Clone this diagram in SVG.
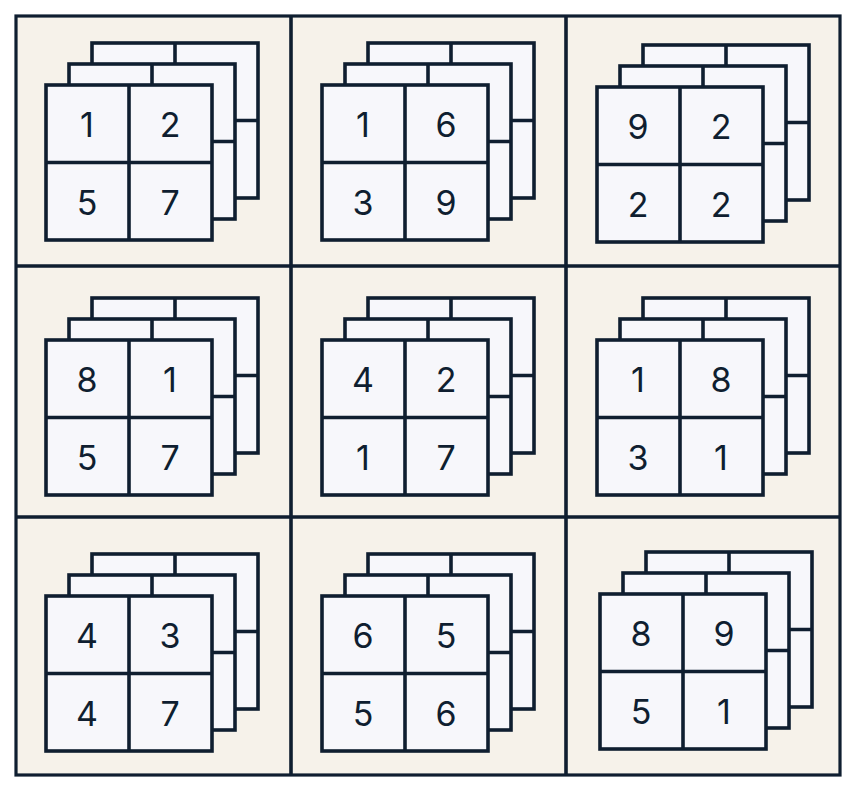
<svg xmlns="http://www.w3.org/2000/svg" xmlns:xlink="http://www.w3.org/1999/xlink" width="858" height="790" viewBox="0 0 858 790">
<style>
.f{fill:#f7f7fb;stroke:#0f1e30;stroke-width:3.6}
.l{stroke:#0f1e30;stroke-width:3.6;fill:none}
.t{font-family:Inter,"Noto Sans",sans-serif;font-size:34px;fill:#0f1e30;text-anchor:middle;dominant-baseline:central}
</style>
<defs>
<g id="stack">
<rect class="f" x="46" y="-42" width="166" height="155"/>
<path class="l" d="M129,-42V35M212,35.5H166"/>
<rect class="f" x="23" y="-21" width="166" height="155"/>
<path class="l" d="M106,-21V56M189,56.5H166"/>
<rect class="f" x="0" y="0" width="166" height="155"/>
<path class="l" d="M83,0V155M0,77.5H166"/>
</g>
</defs>
<rect x="16" y="16" width="824" height="759" fill="#f6f2ea" stroke="#0f1e30" stroke-width="3.2"/>
<g id="connectors">
<path class="l" d="M291,16V775M566,16V775M16,266H840M16,517H840" stroke-width="3.2"/>
</g>
<g id="c1" transform="translate(46,85)"><use xlink:href="#stack"/><text class="t" x="41" y="39">1</text><text class="t" x="124" y="39">2</text><text class="t" x="41" y="117">5</text><text class="t" x="124" y="117">7</text></g>
<g id="c2" transform="translate(322,85)"><use xlink:href="#stack"/><text class="t" x="41" y="39">1</text><text class="t" x="124" y="39">6</text><text class="t" x="41" y="117">3</text><text class="t" x="124" y="117">9</text></g>
<g id="c3" transform="translate(597,87)"><use xlink:href="#stack"/><text class="t" x="41" y="39">9</text><text class="t" x="124" y="39">2</text><text class="t" x="41" y="117">2</text><text class="t" x="124" y="117">2</text></g>
<g id="c4" transform="translate(46,340)"><use xlink:href="#stack"/><text class="t" x="41" y="39">8</text><text class="t" x="124" y="39">1</text><text class="t" x="41" y="117">5</text><text class="t" x="124" y="117">7</text></g>
<g id="c5" transform="translate(322,340)"><use xlink:href="#stack"/><text class="t" x="41" y="39">4</text><text class="t" x="124" y="39">2</text><text class="t" x="41" y="117">1</text><text class="t" x="124" y="117">7</text></g>
<g id="c6" transform="translate(597,340)"><use xlink:href="#stack"/><text class="t" x="41" y="39">1</text><text class="t" x="124" y="39">8</text><text class="t" x="41" y="117">3</text><text class="t" x="124" y="117">1</text></g>
<g id="c7" transform="translate(46,596)"><use xlink:href="#stack"/><text class="t" x="41" y="39">4</text><text class="t" x="124" y="39">3</text><text class="t" x="41" y="117">4</text><text class="t" x="124" y="117">7</text></g>
<g id="c8" transform="translate(322,596)"><use xlink:href="#stack"/><text class="t" x="41" y="39">6</text><text class="t" x="124" y="39">5</text><text class="t" x="41" y="117">5</text><text class="t" x="124" y="117">6</text></g>
<g id="c9" transform="translate(600,594)"><use xlink:href="#stack"/><text class="t" x="41" y="39">8</text><text class="t" x="124" y="39">9</text><text class="t" x="41" y="117">5</text><text class="t" x="124" y="117">1</text></g>
</svg>
